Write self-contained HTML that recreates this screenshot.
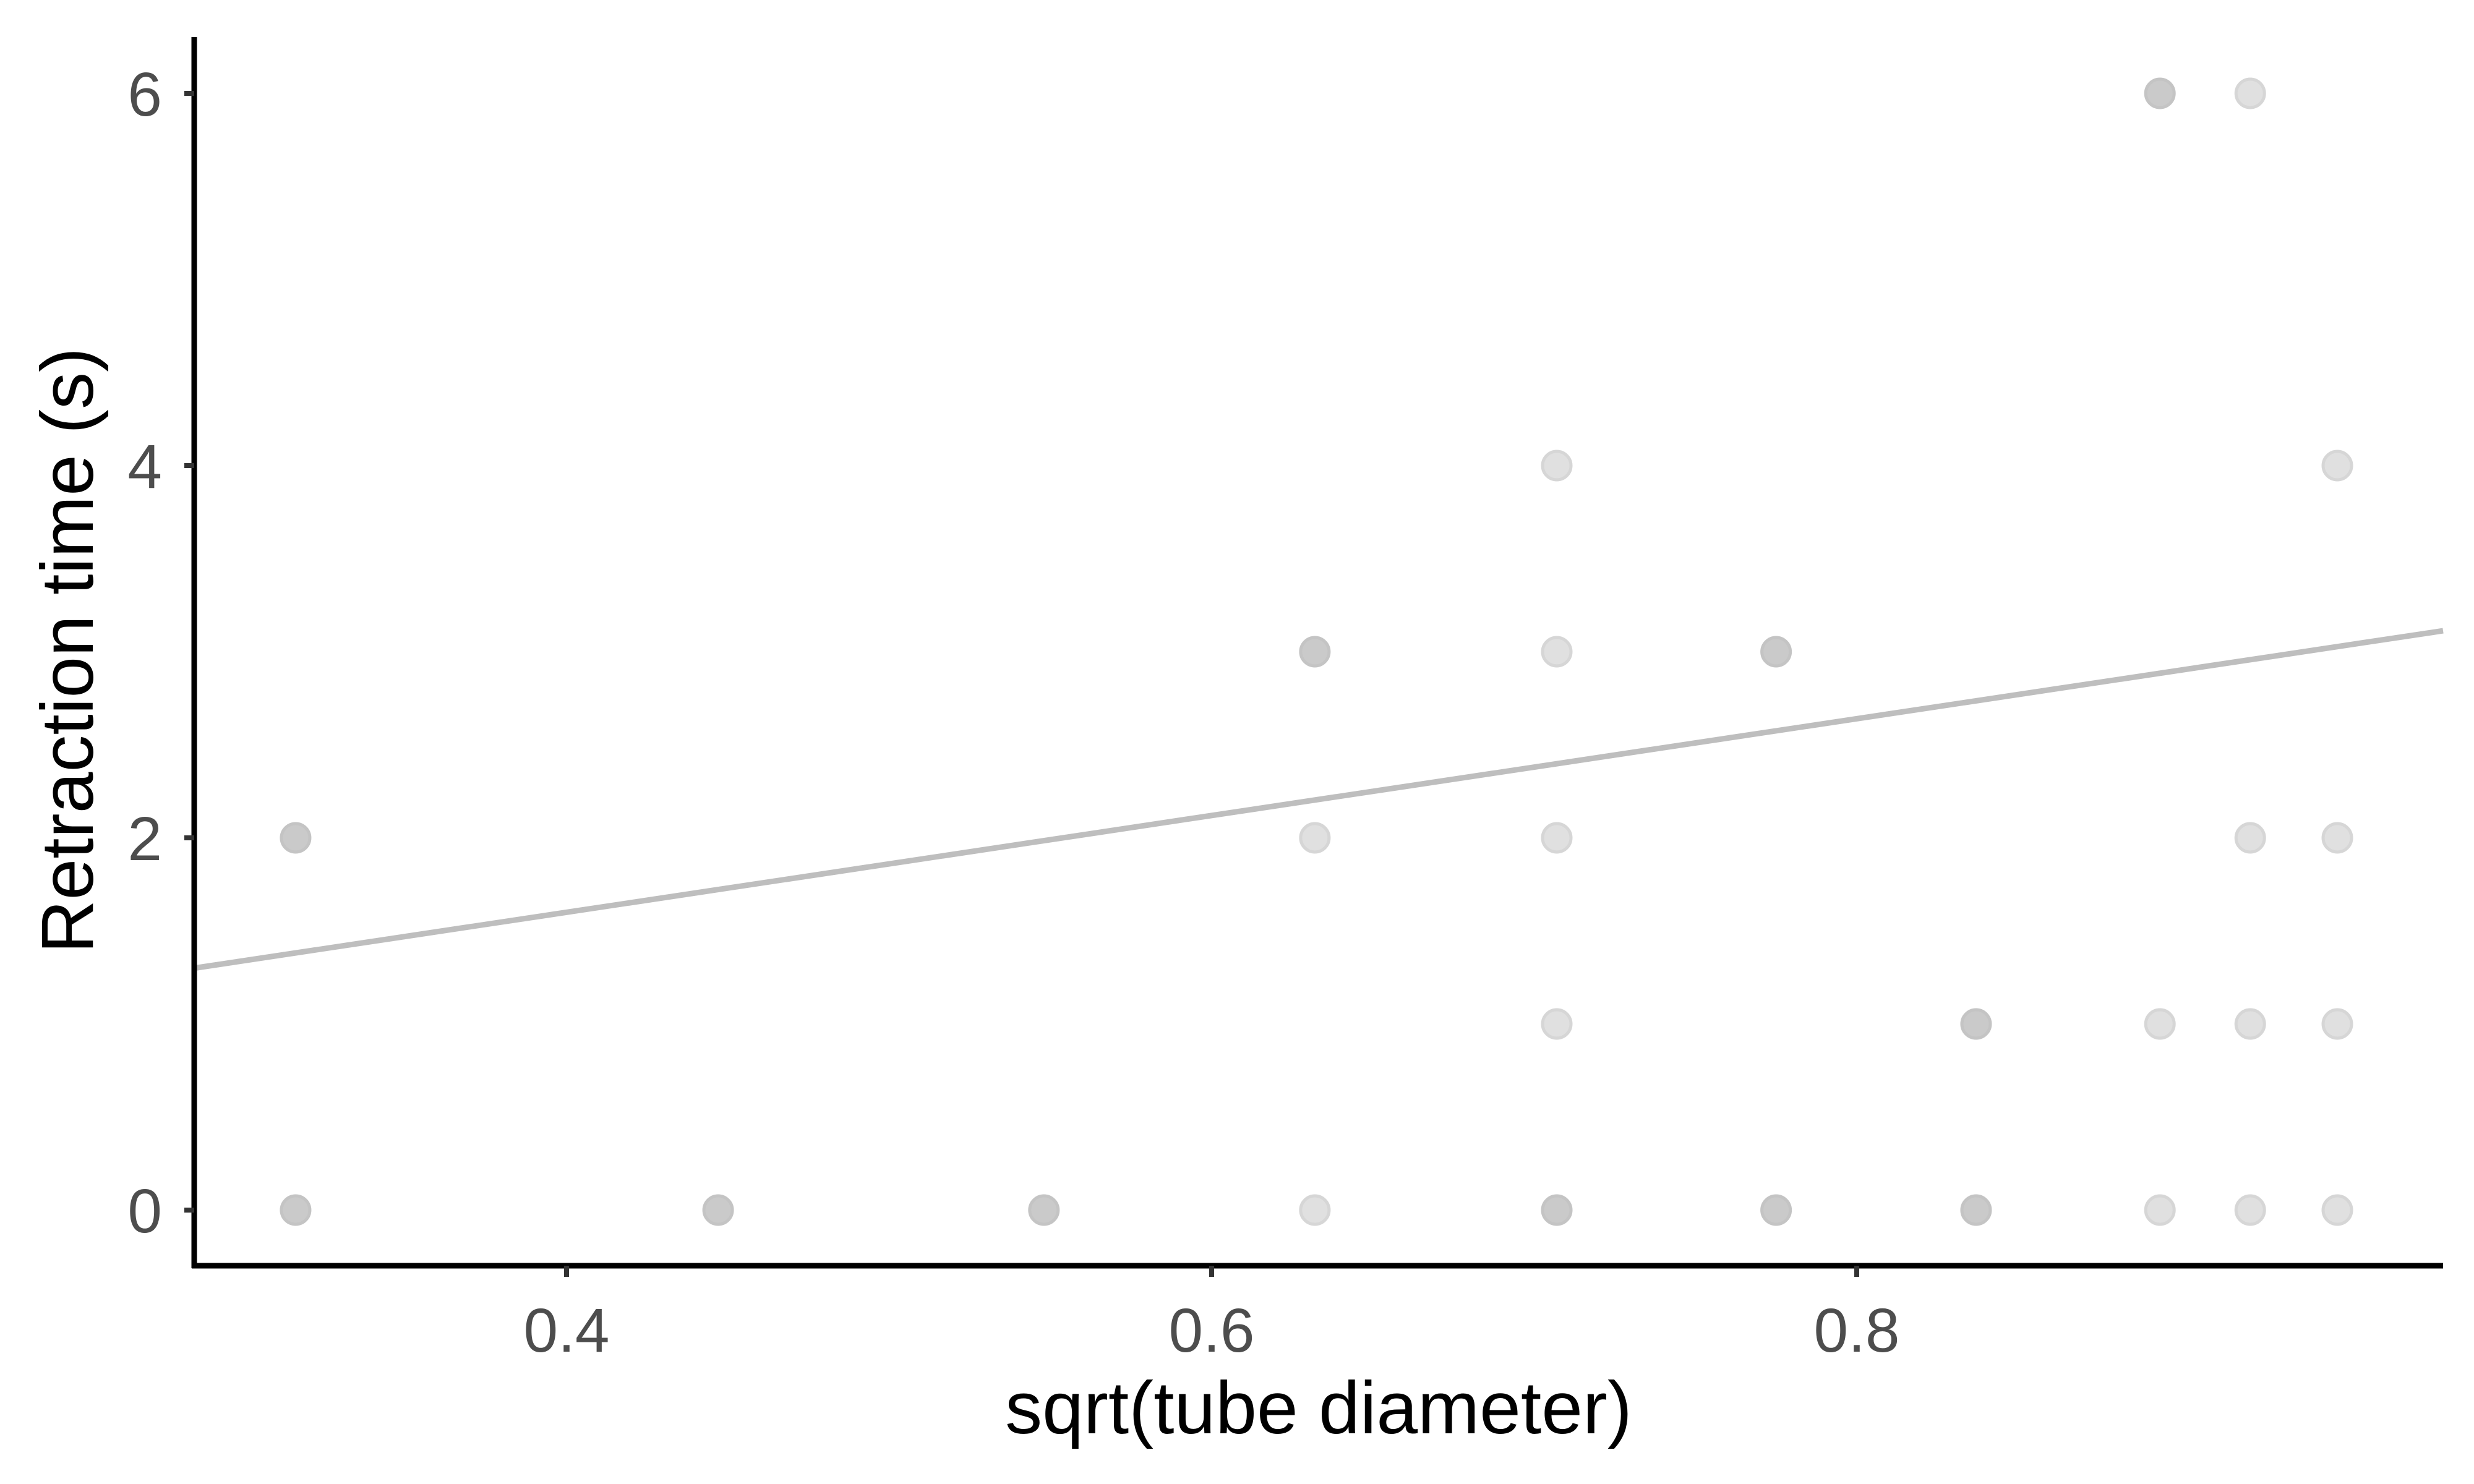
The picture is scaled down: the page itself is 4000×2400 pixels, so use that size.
<!DOCTYPE html>
<html><head><meta charset="utf-8"><style>html,body{margin:0;padding:0;background:#fff}svg{display:block}</style></head>
<body>
<svg id="chart" width="4000" height="2400" xmlns="http://www.w3.org/2000/svg" font-family="'Liberation Sans', sans-serif"></svg>
<script>
const xValues = [0.316,0.316,0.447,0.548,0.632,0.632,0.632,0.707,0.707,0.707,0.707,0.707,0.775,0.775,0.837,0.837,0.894,0.894,0.894,0.922,0.922,0.922,0.922,0.949,0.949,0.949,0.949];
const yValues = [2,0,0,0,3,2,0,4,3,2,1,0,3,0,1,0,6,1,0,6,2,1,0,4,2,1,0];
const counts  = [2,2,2,2,2,1,1,1,1,1,1,2,2,2,2,2,2,1,1,1,1,1,1,1,1,1,1];
const xTicks = [0.4,0.6,0.8];
const xTickLabels = ["0.4","0.6","0.8"];
const yTicks = [0,2,4,6];
const yTickLabels = ["0","2","4","6"];
const fitIntercept = 0.56;
const fitSlope = 2.60;

const svg = document.getElementById('chart');
const NS = 'http://www.w3.org/2000/svg';
const L=314, R=3950, B=2047, T=60;
const X = v => 916 + (v-0.4)*5215;
const Y = v => 1957 - v*301;
function mk(tag, attrs){const e=document.createElementNS(NS,tag);for(const k in attrs)e.setAttribute(k,attrs[k]);svg.appendChild(e);return e;}

for(let i=0;i<xValues.length;i++){
  const c = mk('circle',{cx:X(xValues[i]),cy:Y(yValues[i]),r:23,fill:counts[i]>1?'#cacaca':'#e0e0e0',stroke:counts[i]>1?'#c4c4c4':'#d6d6d6','stroke-width':5});
  
  
}
const x0=(L-916)/5215+0.4, x1=(R-916)/5215+0.4;
const fl = mk('line',{x1:X(x0),y1:Y(fitIntercept+fitSlope*x0),x2:X(x1),y2:Y(fitIntercept+fitSlope*x1),stroke:'#bebebe','stroke-width':9});



const ya = mk('line',{x1:L,y1:T,x2:L,y2:B+4,stroke:'#000','stroke-width':9});


const xa = mk('line',{x1:L-4,y1:B,x2:R,y2:B,stroke:'#000','stroke-width':9});



yTicks.forEach((v,i)=>{
  const t = mk('line',{x1:L-16,y1:Y(v),x2:L,y2:Y(v),stroke:'#333','stroke-width':8});
  
  
  const tx = mk('text',{x:262,y:Y(v)+36,'text-anchor':'end','font-size':100,fill:'#4d4d4d'});
  tx.textContent = yTickLabels[i];
  
  
});
xTicks.forEach((v,i)=>{
  const t = mk('line',{x1:X(v),y1:B,x2:X(v),y2:B+18,stroke:'#333','stroke-width':8});
  
  
  const tx = mk('text',{x:X(v),y:2186,'text-anchor':'middle','font-size':100,fill:'#4d4d4d'});
  tx.textContent = xTickLabels[i];
  
  
});
const xt = mk('text',{x:(L+R)/2,y:2318,'text-anchor':'middle','font-size':120,fill:'#000'});
xt.textContent='sqrt(tube diameter)';


const yt = mk('text',{x:0,y:0,'text-anchor':'middle','font-size':120,fill:'#000',transform:'translate(150,1052) rotate(-90)'});
yt.textContent='Retraction time (s)';


</script>
</body></html>
